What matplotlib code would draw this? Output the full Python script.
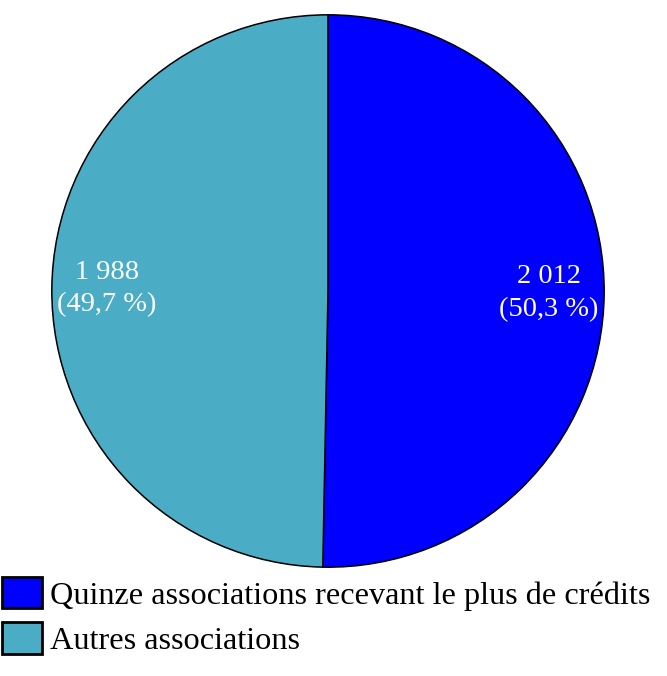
import matplotlib
matplotlib.use("Agg")
import matplotlib.pyplot as plt

plt.rcParams['font.family'] = ['Liberation Serif', 'DejaVu Serif']

# data
labels = ["Quinze associations recevant le plus de crédits", "Autres associations"]
values = [2012, 1988]
colors = ["#0000ff", "#4bacc6"]


def fmt(pct):
    n = int(round(pct * sum(values) / 100.0))
    s = "{:,}".format(n).replace(",", " ")
    return "{}\n({} %)".format(s, ("%.1f" % pct).replace(".", ","))


fig = plt.figure(figsize=(6.67, 6.76), dpi=100)
ax = fig.add_axes([51 / 667, (676 - 568) / 676, 554 / 667, 554 / 676])

wedges, texts, autotexts = ax.pie(values, colors=colors, startangle=90, counterclock=False,
                                  autopct=fmt, pctdistance=0.8,
                                  wedgeprops=dict(edgecolor="black", linewidth=1.1),
                                  textprops=dict(color="white", fontsize=20.5))
for t in autotexts:
    t.set_linespacing(1.38)
ax.set_xlim(-1.003, 1.003)
ax.set_ylim(-1.003, 1.003)
ax.set_aspect("equal")

leg = fig.legend(wedges, labels, loc="upper left", bbox_to_anchor=(2 / 667, 1 - 577 / 676),
                 frameon=False, fontsize=23.2, handlelength=1.24, handleheight=1.12,
                 handletextpad=0.25, labelspacing=0.36, borderaxespad=0, borderpad=0)
for h in leg.legend_handles:
    h.set_linewidth(2)

fig.savefig("out.png", dpi=100)
